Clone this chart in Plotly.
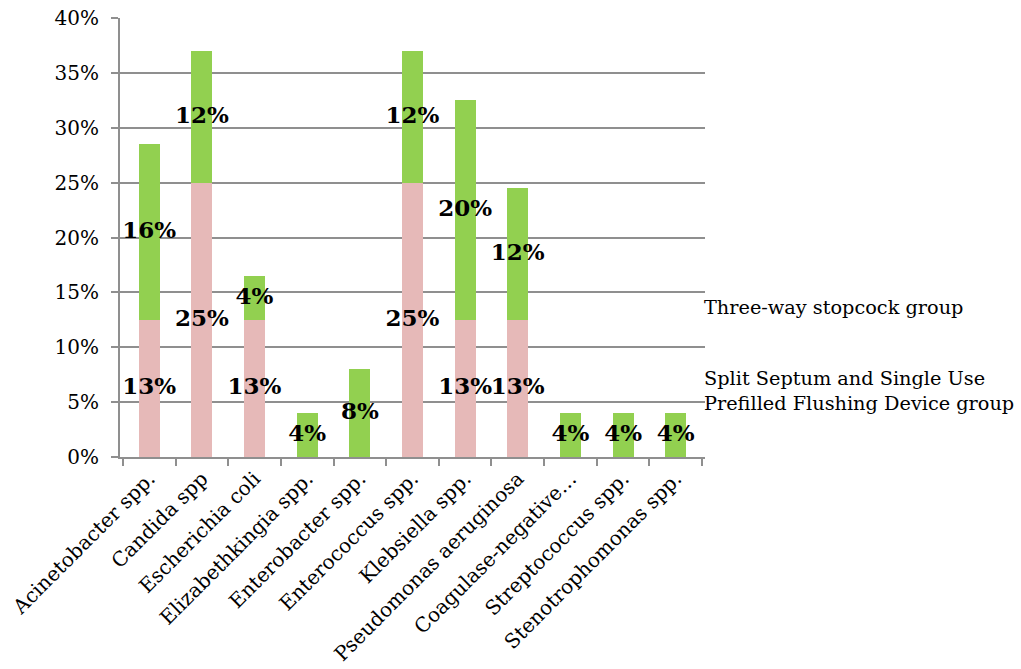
import plotly.graph_objects as go

categories = ["Acinetobacter spp.", "Candida spp", "Escherichia coli", "Elizabethkingia spp.",
              "Enterobacter spp.", "Enterococcus spp.", "Klebsiella spp.", "Pseudomonas aeruginosa",
              "Coagulase-negative…", "Streptococcus spp.", "Stenotrophomonas spp."]
split_septum = [12.5, 25, 12.5, 0, 0, 25, 12.5, 12.5, 0, 0, 0]
three_way = [16, 12, 4, 4, 8, 12, 20, 12, 4, 4, 4]
split_labels = ["13%", "25%", "13%", "", "", "25%", "13%", "13%", "", "", ""]
three_labels = ["16%", "12%", "4%", "4%", "8%", "12%", "20%", "12%", "4%", "4%", "4%"]
series_names = ["Three-way stopcock group", "Split Septum and Single Use<br>Prefilled Flushing Device group"]
y_ticks = [0, 5, 10, 15, 20, 25, 30, 35, 40]
y_tick_text = ["0%", "5%", "10%", "15%", "20%", "25%", "30%", "35%", "40%"]

FONT = "DejaVu Serif"
GREEN = "#92D050"
PINK = "#E6B9B8"

fig = go.Figure()
fig.add_trace(go.Bar(x=categories, y=split_septum, marker=dict(color=PINK, line=dict(width=0)),
                     name="Split Septum and Single Use Prefilled Flushing Device group", showlegend=False))
fig.add_trace(go.Bar(x=categories, y=three_way, marker=dict(color=GREEN, line=dict(width=0)),
                     name="Three-way stopcock group", showlegend=False))

# data labels centred in each segment
pink_mid = [v / 2 for v in split_septum]
green_mid = [s + g / 2 for s, g in zip(split_septum, three_way)]
fig.add_trace(go.Scatter(x=categories, y=pink_mid, mode="text", text=split_labels,
                         textfont=dict(family=FONT, size=23, color="black", weight="bold"),
                         showlegend=False, hoverinfo="skip"))
fig.add_trace(go.Scatter(x=categories, y=green_mid, mode="text", text=three_labels,
                         textfont=dict(family=FONT, size=23, color="black", weight="bold"),
                         showlegend=False, hoverinfo="skip"))

# legend text
fig.add_annotation(xref="paper", yref="paper", x=0.995, y=(457 - 307) / 439, xanchor="left", yanchor="middle",
                   text=series_names[0], showarrow=False, align="left",
                   font=dict(family=FONT, size=19.3, color="black"))
fig.add_annotation(xref="paper", yref="paper", x=0.995, y=(457 - 391) / 439, xanchor="left", yanchor="middle",
                   text=series_names[1], showarrow=False, align="left",
                   font=dict(family=FONT, size=19.3, color="black"))

fig.update_layout(
    barmode="stack",
    bargap=0.6,
    width=1021, height=669,
    margin=dict(l=120, r=316, t=18, b=212, autoexpand=False),
    paper_bgcolor="white", plot_bgcolor="white",
    font=dict(family=FONT, size=20, color="black"),
)
fig.update_yaxes(range=[0, 40], tickmode="array", tickvals=y_ticks, ticktext=y_tick_text, showgrid=True,
                 gridcolor="#8f8f8f", gridwidth=2, showline=True, linecolor="#8f8f8f", linewidth=2,
                 ticks="outside", ticklen=7, tickcolor="#8f8f8f", tickwidth=2,
                 tickfont=dict(family=FONT, size=20, color="black"), ticklabelstandoff=8,
                 zeroline=False)
fig.update_xaxes(tickangle=-45, showline=True, linecolor="#8f8f8f", linewidth=2,
                 ticks="outside", ticklen=7, tickcolor="#8f8f8f", tickwidth=2, tickson="boundaries",
                 tickfont=dict(family=FONT, size=20, color="black"))

fig.write_html("out.html")
